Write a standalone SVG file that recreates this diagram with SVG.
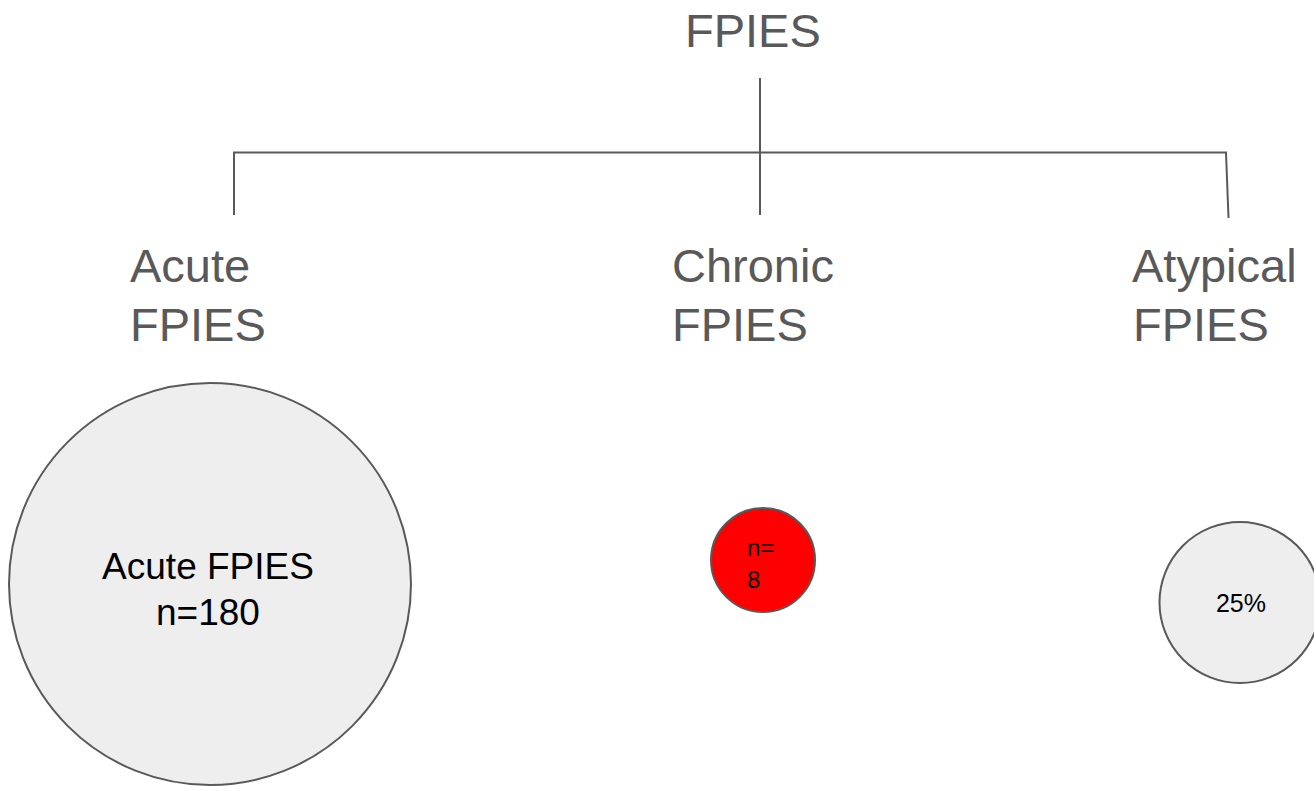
<svg xmlns="http://www.w3.org/2000/svg" width="1314" height="791" viewBox="0 0 1314 791">
<style>
.lbl{font-family:"Liberation Sans",Arial,sans-serif;fill:#595959;font-size:47px}
.in{font-family:"Liberation Sans",Arial,sans-serif;fill:#000000;text-anchor:middle}
.conn{stroke:#595959;stroke-width:2;fill:none}
.c{stroke:#595959;stroke-width:2}
</style>
<rect width="1314" height="791" fill="#ffffff"/>
<g id="connectors">
<line class="conn" x1="760" y1="78" x2="760" y2="215"/>
<polyline class="conn" points="234,215 234,152.5 1226,152.5 1228.5,218"/>
</g>
<g id="root"><text class="lbl" x="685" y="47">FPIES</text></g>
<g id="acute-label"><text class="lbl" x="130" y="282">Acute</text><text class="lbl" x="130" y="341">FPIES</text></g>
<g id="chronic-label"><text class="lbl" x="672" y="282">Chronic</text><text class="lbl" x="672" y="341">FPIES</text></g>
<g id="atypical-label"><text class="lbl" x="1132" y="282">Atypical</text><text class="lbl" x="1133" y="341">FPIES</text></g>
<g id="acute-circle">
<circle class="c" cx="210" cy="584" r="201" fill="#eeeeee"/>
<text class="in" x="208" y="579" font-size="37">Acute FPIES</text>
<text class="in" x="208" y="625" font-size="37">n=180</text>
</g>
<g id="chronic-circle">
<circle class="c" cx="763" cy="560" r="52" fill="#ff0000"/>
<text font-family="Liberation Sans, Arial, sans-serif" font-size="24" x="747" y="556">n=</text>
<text font-family="Liberation Sans, Arial, sans-serif" font-size="24" x="747" y="588">8</text>
</g>
<g id="atypical-circle">
<circle class="c" cx="1240" cy="602.5" r="80.5" fill="#eeeeee"/>
<text class="in" x="1241" y="612" font-size="25">25%</text>
</g>
</svg>
